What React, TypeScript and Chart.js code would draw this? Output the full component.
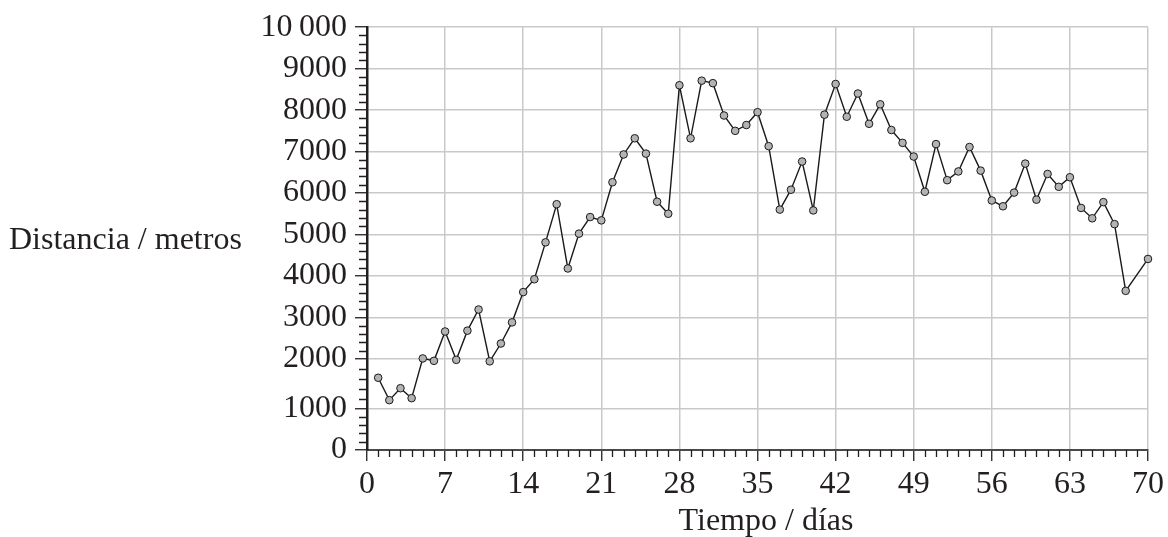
import { useEffect, useRef } from "react";
import { Chart, registerables, LinearScale } from "chart.js";

// Day of measurement (day 69 has no reading)
const days = [
  1, 2, 3, 4, 5, 6, 7, 8, 9, 10, 11, 12, 13, 14, 15, 16, 17, 18, 19, 20,
  21, 22, 23, 24, 25, 26, 27, 28, 29, 30, 31, 32, 33, 34, 35, 36, 37, 38, 39, 40,
  41, 42, 43, 44, 45, 46, 47, 48, 49, 50, 51, 52, 53, 54, 55, 56, 57, 58, 59, 60,
  61, 62, 63, 64, 65, 66, 67, 68, 70,
];

// Distance covered each day, in metres
const distance = [
  1620, 1170, 1410, 1210, 2010, 1960, 2660, 1980, 2680, 3190,
  1950, 2370, 2880, 3610, 3920, 4810, 5730, 4180, 5020, 5420,
  5340, 6260, 6930, 7320, 6950, 5790, 5500, 8600, 7320, 8710,
  8650, 7870, 7500, 7640, 7950, 7130, 5600, 6080, 6760, 5580,
  7890, 8630, 7840, 8400, 7670, 8140, 7520, 7210, 6880, 6030,
  7180, 6310, 6520, 7110, 6540, 5820, 5680, 6010, 6710, 5840,
  6460, 6150, 6380, 5640, 5390, 5780, 5250, 3640, 4410,
];

const yTickLabels = [
  "0", "1000", "2000", "3000", "4000", "5000",
  "6000", "7000", "8000", "9000", "10\u2009000",
];

const xTitle = "Tiempo / días";
const yTitle = "Distancia / metros";

// The vertical axis is printed in three linear pieces: the 1000–2000 band
// is drawn taller than the others. Values at the stops and the share of
// the axis height they reach.
const axisStops = [0, 1000, 2000, 10000];
const axisShares = [0, 0.0979, 0.2156, 1];

const INK = "#231f20";
const GRID = "#c9c9c9";
const FONT = "'Liberation Serif', 'Times New Roman', serif";
const FONT_SIZE = 32;

function valueToShare(v: number): number {
  for (let i = 1; i < axisStops.length; i++) {
    if (v <= axisStops[i] || i === axisStops.length - 1) {
      const t = (v - axisStops[i - 1]) / (axisStops[i] - axisStops[i - 1]);
      return axisShares[i - 1] + t * (axisShares[i] - axisShares[i - 1]);
    }
  }
  return 0;
}

function shareToValue(s: number): number {
  for (let i = 1; i < axisShares.length; i++) {
    if (s <= axisShares[i] || i === axisShares.length - 1) {
      const t = (s - axisShares[i - 1]) / (axisShares[i] - axisShares[i - 1]);
      return axisStops[i - 1] + t * (axisStops[i] - axisStops[i - 1]);
    }
  }
  return 0;
}

class PiecewiseLinearScale extends LinearScale {
  static id = "piecewiseLinear";
  getPixelForValue(value: any) {
    if (value === null || value === undefined || isNaN(value)) return NaN;
    return this.getPixelForDecimal(valueToShare(value));
  }
  getValueForPixel(pixel: number) {
    return shareToValue(this.getDecimalForPixel(pixel));
  }
}

Chart.register(...registerables);
Chart.register(PiecewiseLinearScale as any);

// Minor tick marks and the two axis titles
const axisDecor = {
  id: "axisDecor",
  afterDraw(chart: any) {
    const { ctx, chartArea, scales } = chart;
    const xs = scales.x;
    const ys = scales.y;
    ctx.save();
    ctx.strokeStyle = INK;
    ctx.lineWidth = 1.3;
    ctx.beginPath();
    for (let v = 200; v < 10000; v += 200) {
      if (v % 1000 === 0) continue;
      const py = Math.round(ys.getPixelForValue(v)) + 0.5;
      ctx.moveTo(chartArea.left - 8, py);
      ctx.lineTo(chartArea.left, py);
    }
    for (let d = 1; d < 70; d++) {
      if (d % 7 === 0) continue;
      const px = Math.round(xs.getPixelForValue(d)) + 0.5;
      ctx.moveTo(px, chartArea.bottom);
      ctx.lineTo(px, chartArea.bottom + 7);
    }
    ctx.stroke();

    ctx.fillStyle = INK;
    ctx.font = `${FONT_SIZE}px ${FONT}`;
    ctx.textBaseline = "alphabetic";
    ctx.textAlign = "left";
    ctx.fillText(yTitle, 9, 249);
    ctx.textAlign = "center";
    ctx.fillText(xTitle, 766, 530);
    ctx.restore();
  },
};

export default function App() {
  const canvasRef = useRef<HTMLCanvasElement | null>(null);

  useEffect(() => {
    const canvas = canvasRef.current;
    if (!canvas) return;
    const points = days.map((d, i) => ({ x: d, y: distance[i] }));

    const chart = new Chart(canvas, {
      type: "line",
      data: {
        datasets: [
          {
            data: points,
            borderColor: "#1a1a1a",
            borderWidth: 1.4,
            pointRadius: 3.8,
            pointBackgroundColor: "#b3b3b3",
            pointBorderColor: "#1a1a1a",
            pointBorderWidth: 1,
            tension: 0,
            clip: false,
          },
        ],
      },
      options: {
        animation: false,
        responsive: false,
        devicePixelRatio: 1,
        layout: { padding: { left: 257, top: 23, right: 18, bottom: 0 } },
        plugins: {
          legend: { display: false },
          tooltip: { enabled: false },
        },
        scales: {
          x: {
            type: "linear",
            min: 0,
            max: 70,
            ticks: {
              stepSize: 7,
              autoSkip: false,
              maxRotation: 0,
              color: INK,
              padding: 4,
              font: { family: FONT, size: FONT_SIZE },
            },
            grid: {
              color: GRID,
              lineWidth: 1.5,
              tickColor: INK,
              tickLength: 11,
              tickWidth: 1.3,
            },
            border: { color: "#4a4a4a", width: 2 },
            afterFit: (s: any) => {
              s.height = 87;
            },
          },
          y: {
            type: "piecewiseLinear" as any,
            min: 0,
            max: 10000,
            ticks: {
              stepSize: 1000,
              color: INK,
              padding: 8,
              font: { family: FONT, size: FONT_SIZE },
              callback: (_v: any, i: number) => yTickLabels[i],
            },
            grid: {
              color: GRID,
              lineWidth: 1.5,
              tickColor: INK,
              tickLength: 12,
              tickWidth: 1.3,
            },
            border: { color: INK, width: 2.5 },
            afterFit: (s: any) => {
              s.width = 110;
            },
          },
        },
      },
      plugins: [axisDecor],
    });

    return () => chart.destroy();
  }, []);

  return (
    <div
      style={{
        position: "fixed",
        left: 0,
        top: 0,
        width: 1168,
        height: 537,
        background: "#ffffff",
      }}
    >
      <canvas ref={canvasRef} width={1168} height={537} />
    </div>
  );
}
